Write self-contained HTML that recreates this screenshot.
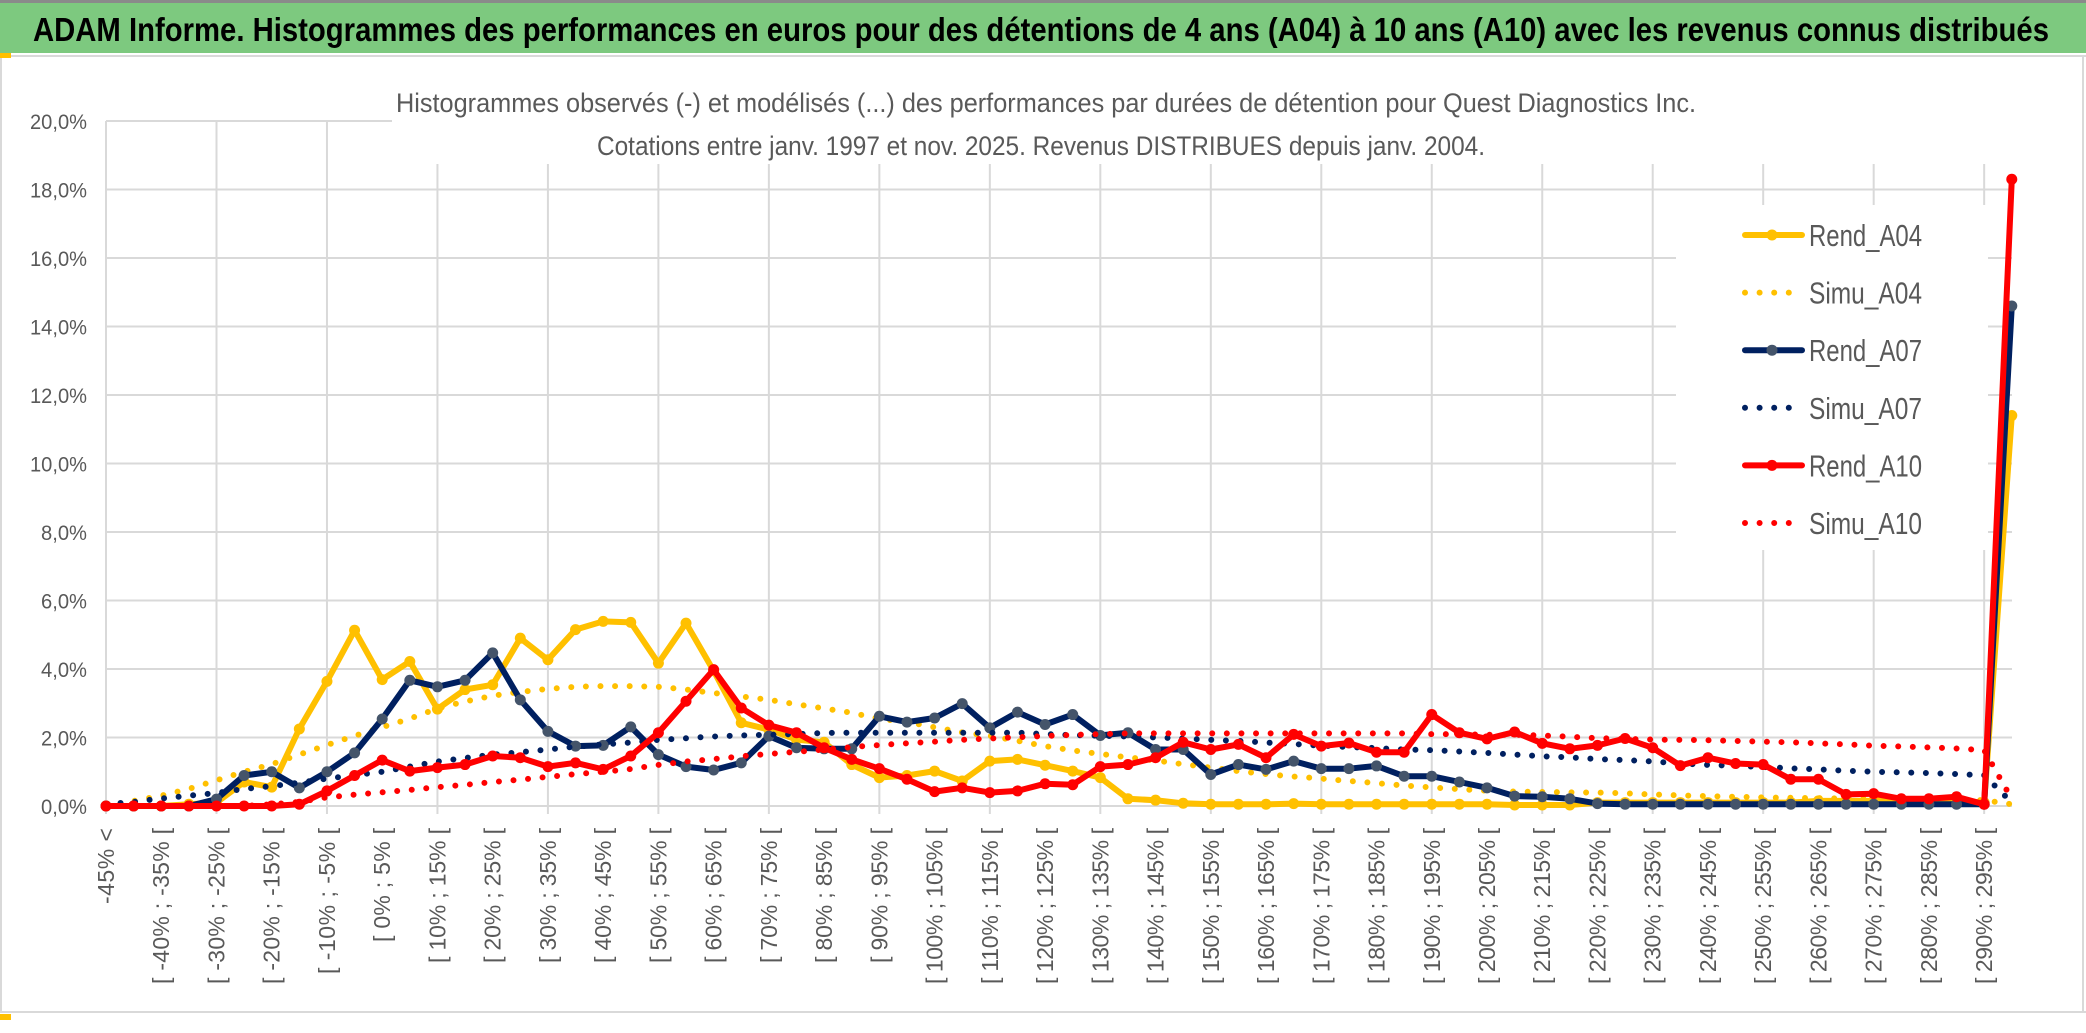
<!DOCTYPE html>
<html><head><meta charset="utf-8">
<style>
html,body{margin:0;padding:0;background:#fff;}
svg{display:block;}
text{font-family:"Liberation Sans",sans-serif;}
</style></head>
<body>
<svg id="chart" width="2086" height="1033" viewBox="0 0 2086 1033" xmlns="http://www.w3.org/2000/svg">
  <rect x="0" y="0" width="2086" height="1033" fill="#ffffff"/>
  <rect x="0" y="3" width="2086" height="50" fill="#7dc97f"/>
  <line x1="0" y1="1.5" x2="2086" y2="1.5" stroke="#8a8a8a" stroke-width="3"/>
  <line x1="0" y1="56" x2="2086" y2="56" stroke="#d9d9d9" stroke-width="2"/>
  <line x1="0" y1="1012" x2="2086" y2="1012" stroke="#d9d9d9" stroke-width="2"/>
  <line x1="2083" y1="56" x2="2083" y2="1012" stroke="#d9d9d9" stroke-width="2"/>
  <line x1="1" y1="56" x2="1" y2="1012" stroke="#d9d9d9" stroke-width="2"/>
  <text x="33" y="41" font-size="33" font-weight="bold" fill="#000" textLength="2016" lengthAdjust="spacingAndGlyphs">ADAM Informe. Histogrammes des performances en euros pour des détentions de 4 ans (A04) à 10 ans (A10) avec les revenus connus distribués</text>
  <g id="grid"></g>
  <rect x="392" y="60" width="1625" height="104" fill="#fff"/>
  <text x="396" y="112" font-size="27" fill="#595959" textLength="1300" lengthAdjust="spacingAndGlyphs">Histogrammes observés (-) et modélisés (...) des performances par durées de détention pour Quest Diagnostics Inc.</text>
  <text x="597" y="155" font-size="27" fill="#595959" textLength="888" lengthAdjust="spacingAndGlyphs">Cotations entre janv. 1997 et nov. 2025. Revenus DISTRIBUES depuis janv. 2004.</text>
  <g id="yaxis"></g>
  <g id="xaxis"></g>
  <rect x="1676" y="205" width="312" height="345" fill="#fff"/>
  <g id="series"></g>
  <g id="legend"></g>
  <rect x="0" y="53" width="11" height="5" fill="#ffc000"/>
  <rect x="0" y="1014" width="11" height="6" fill="#ffc000"/>
</svg>
<script>
const categories = (function(){ const c=['-45% <']; for(let i=1;i<70;i++){const lo=-45+5*(i-1);c.push('[ '+lo+'% ; '+(lo+5)+'% [');} return c; })();
const yTicks = [0,2,4,6,8,10,12,14,16,18,20];
const yTickLabels = ['0,0%','2,0%','4,0%','6,0%','8,0%','10,0%','12,0%','14,0%','16,0%','18,0%','20,0%'];
const rendA04 = [0,0,0,0.05,0.1, 0.7,0.55,2.25,3.64,5.13, 3.69,4.22,2.83,3.4,3.54, 4.9,4.27,5.15,5.39,5.36, 4.17,5.34,3.95,2.43,2.23, 1.94,1.86,1.21,0.83,0.89, 1.02,0.73,1.31,1.36,1.19, 1.02,0.83,0.21,0.17,0.08, 0.05,0.05,0.05,0.07,0.05, 0.05,0.05,0.05,0.05,0.05, 0.05,0.03,0.03,0.03,0.1, 0.1,0.1,0.1,0.1,0.1, 0.1,0.1,0.15,0.15,0.15, 0.15,0.15,0.15,0.1,11.4];
const simuA04 = [0,0.15,0.3,0.5,0.75, 1.0,1.22,1.5,1.78,2.05, 2.3,2.55,2.85,3.05,3.22, 3.33,3.42,3.48,3.5,3.5, 3.48,3.4,3.3,3.2,3.1, 2.97,2.85,2.72,2.55,2.45, 2.3,2.15,2.05,1.9,1.75, 1.62,1.52,1.42,1.33,1.22, 1.12,1.02,0.93,0.86,0.8, 0.73,0.67,0.6,0.54,0.49, 0.45,0.42,0.41,0.4,0.39, 0.37,0.34,0.31,0.29,0.27, 0.25,0.24,0.23,0.22,0.21, 0.2,0.19,0.18,0.17,0.05];
const rendA07 = [0,0,0,0,0.2, 0.89,1.0,0.53,1.0,1.55, 2.54,3.67,3.48,3.67,4.47, 3.1,2.18,1.75,1.77,2.31, 1.5,1.15,1.05,1.26,2.04, 1.7,1.67,1.67,2.62,2.45, 2.57,2.99,2.28,2.74,2.38, 2.67,2.06,2.14,1.65,1.65, 0.92,1.21,1.07,1.31,1.09, 1.09,1.17,0.87,0.87,0.7, 0.53,0.29,0.27,0.21,0.07, 0.05,0.05,0.05,0.05,0.05, 0.05,0.05,0.05,0.05,0.05, 0.05,0.05,0.05,0.05,14.6];
const simuA07 = [0.05,0.12,0.22,0.3,0.38, 0.5,0.58,0.68,0.8,0.9, 1.0,1.15,1.3,1.4,1.5, 1.57,1.65,1.73,1.8,1.85, 1.93,1.98,2.03,2.06,2.08, 2.1,2.13,2.14,2.14,2.14, 2.14,2.14,2.14,2.14,2.1, 2.07,2.05,2.03,2.0,1.97, 1.93,1.9,1.85,1.81,1.76, 1.72,1.69,1.65,1.63,1.59, 1.55,1.5,1.45,1.42,1.37, 1.34,1.3,1.24,1.2,1.17, 1.14,1.1,1.07,1.03,1.0, 0.98,0.96,0.93,0.9,0.1];
const rendA10 = [0,0,0,0,0, 0,0,0.05,0.44,0.89, 1.34,1.02,1.12,1.21,1.46, 1.41,1.15,1.26,1.07,1.46, 2.14,3.06,3.98,2.86,2.36, 2.14,1.7,1.36,1.09,0.78, 0.42,0.53,0.39,0.44,0.65, 0.62,1.15,1.21,1.41,1.86, 1.65,1.8,1.41,2.09,1.75, 1.84,1.57,1.57,2.67,2.14, 1.96,2.16,1.83,1.67,1.77, 1.97,1.7,1.18,1.41,1.24, 1.21,0.78,0.78,0.34,0.36, 0.21,0.21,0.27,0.05,18.3];
const simuA10 = [0,0,0,0,0, 0,0.05,0.12,0.25,0.33, 0.4,0.47,0.55,0.62,0.7, 0.77,0.85,0.93,1.0,1.08, 1.2,1.3,1.37,1.45,1.52, 1.58,1.65,1.72,1.78,1.83, 1.88,1.93,1.97,2.01,2.04, 2.08,2.1,2.12,2.12,2.12, 2.12,2.12,2.12,2.12,2.12, 2.12,2.12,2.12,2.1,2.1, 2.08,2.08,2.06,2.02,1.98, 1.96,1.94,1.93,1.92,1.9, 1.88,1.86,1.83,1.8,1.76, 1.74,1.71,1.68,1.63,0.2];
const seriesNames = ['Rend_A04','Simu_A04','Rend_A07','Simu_A07','Rend_A10','Simu_A10'];

const NS='http://www.w3.org/2000/svg';
const X0=106, DX=27.62, Y0=806, Y20=121, PLOT_R=2012;
function xPos(i){return X0+DX*i;}
function yPos(v){return Y0-(v/20)*(Y0-Y20);}
function mk(tag,attrs,parent){const e=document.createElementNS(NS,tag);for(const k in attrs)e.setAttribute(k,attrs[k]);parent.appendChild(e);return e;}

const grid=document.getElementById('grid');
yTicks.forEach(function(t){
  const l=mk('line',{x1:X0,y1:yPos(t),x2:PLOT_R,y2:yPos(t),stroke:'#d9d9d9','stroke-width':2},grid);
  
  
});
for(let i=0;i<categories.length;i+=4){
  const l=mk('line',{x1:xPos(i),y1:Y20,x2:xPos(i),y2:Y0+8,stroke:'#d9d9d9','stroke-width':2},grid);
  
  
}

const yaxis=document.getElementById('yaxis');
yTicks.forEach(function(t,k){
  const tx=mk('text',{x:87,y:yPos(t)+8,'text-anchor':'end','font-size':21,fill:'#595959',textLength:yTickLabels[k].length>4?57:46,lengthAdjust:'spacingAndGlyphs'},yaxis);
  tx.textContent=yTickLabels[k];
  
  
});

const xaxis=document.getElementById('xaxis');
for(let i=0;i<categories.length;i+=2){
  const x=xPos(i)+8, y=828;
  const len = i===0 ? 76 : Math.round(categories[i].length*10.4);
  const tx=mk('text',{x:x,y:y,'text-anchor':'end','font-size':23,fill:'#595959',textLength:len,lengthAdjust:'spacing',transform:'rotate(-90 '+x+' '+y+')'},xaxis);
  tx.textContent=categories[i];
  
  
}

const seriesLayer=document.getElementById('series');
function pts(arr){return arr.map(function(v,i){return xPos(i).toFixed(1)+','+yPos(v).toFixed(1);}).join(' ');}
function solid(arr,color,marker,name){
  const g=mk('g',{},seriesLayer);
  
  
  mk('polyline',{points:pts(arr),fill:'none',stroke:color,'stroke-width':6,'stroke-linejoin':'round','stroke-linecap':'round'},g);
  arr.forEach(function(v,i){
    const c=mk('circle',{cx:xPos(i),cy:yPos(v),r:5.5,fill:marker},g);
    
    
  });
}
function dotted(arr,color,name){
  const p=mk('polyline',{points:pts(arr),fill:'none',stroke:color,'stroke-width':6,'stroke-linecap':'round','stroke-dasharray':'0 14.6'},seriesLayer);
  
  
}
solid(rendA04,'#ffc000','#ffc000','rend-a04-line');
dotted(simuA04,'#ffc000','simu-a04-line');
solid(rendA07,'#002060','#44546a','rend-a07-line');
dotted(simuA07,'#002060','simu-a07-line');
solid(rendA10,'#ff0000','#ff0000','rend-a10-line');
dotted(simuA10,'#ff0000','simu-a10-line');

const legend=document.getElementById('legend');
const legColors=['#ffc000','#ffc000','#002060','#002060','#ff0000','#ff0000'];
const legMarkers=['#ffc000',null,'#44546a',null,'#ff0000',null];
seriesNames.forEach(function(n,k){
  const y=235+k*57.6;
  const g=mk('g',{},legend);
  
  
  if(legMarkers[k]){
    mk('line',{x1:1745,y1:y,x2:1802,y2:y,stroke:legColors[k],'stroke-width':6,'stroke-linecap':'round'},g);
    mk('circle',{cx:1772,cy:y,r:5.5,fill:legMarkers[k]},g);
  } else {
    mk('line',{x1:1745,y1:y,x2:1802,y2:y,stroke:legColors[k],'stroke-width':6,'stroke-linecap':'round','stroke-dasharray':'0 14.6'},g);
  }
  const t=mk('text',{x:1809,y:y+11,'font-size':31,fill:'#595959',textLength:113,lengthAdjust:'spacingAndGlyphs'},g);
  t.textContent=n;
});
</script>
</body></html>
